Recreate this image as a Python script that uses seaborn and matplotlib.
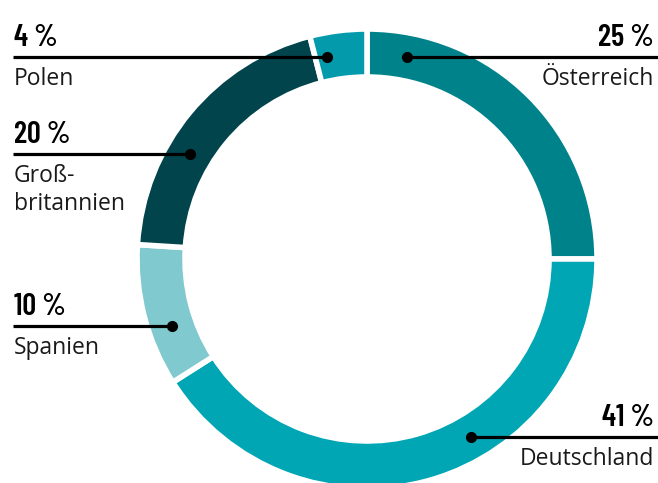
import numpy as np
import matplotlib.pyplot as plt
import seaborn as sns

# Daten (im Uhrzeigersinn ab 12 Uhr)
laender = ['Österreich', 'Deutschland', 'Spanien', 'Groß-\nbritannien', 'Polen']
anteile = [25, 41, 10, 20, 4]
farben = ['#00828b', '#00a6b4', '#80c9ce', '#02444c', '#039aab']
prozent_labels = ['25 %', '41 %', '10 %', '20 %', '4 %']

# Layout der Beschriftungen: Seite und Höhe der Linie (Pixel von oben)
seiten = ['right', 'right', 'left', 'left', 'left']
linien_y = [57, 437, 326, 154, 57]

W, H = 658, 483
cx, cy, r_aussen, ring = 367, 259, 230, 48

sns.set_style('white')

fig = plt.figure(figsize=(W / 100, H / 100), dpi=100)
ax = fig.add_axes([0, 0, 1, 1])

wedges, _ = ax.pie(anteile, colors=farben, startangle=90, counterclock=False,
                   radius=r_aussen, center=(cx, H - cy),
                   wedgeprops=dict(width=ring, edgecolor='white', linewidth=4))
ax.set_xlim(0, W)
ax.set_ylim(0, H)
ax.set_aspect('equal')
ax.axis('off')

r_mitte = r_aussen - ring / 2
pct_font = dict(family=['Barlow Condensed', 'DejaVu Sans'], weight=600, size=22, color='black')
name_font = dict(family=['Open Sans', 'DejaVu Sans'], size=16.5, color='#1a1a1a')

for w, seite, ly, pct, name in zip(wedges, seiten, linien_y, prozent_labels, laender):
    # Punkt auf dem Ring in Höhe der Linie, innerhalb des Segments
    dy = cy - ly
    dx = np.sqrt(max(r_mitte ** 2 - dy ** 2, 0))
    px = None
    for x in (cx + dx, cx - dx):
        ang = np.degrees(np.arctan2(dy, x - cx)) % 360
        t1, t2 = w.theta1 % 360, w.theta2 % 360
        inside = (t1 <= ang <= t2) if t1 <= t2 else (ang >= t1 or ang <= t2)
        if inside:
            px = x
            break
    if px is None:
        px = cx + dx if seite == 'right' else cx - dx

    if seite == 'left':
        ax.plot([13, px], [H - ly, H - ly], color='black', lw=2.3, solid_capstyle='butt')
        tx, ha = 14, 'left'
    else:
        ax.plot([px, W], [H - ly, H - ly], color='black', lw=2.3, solid_capstyle='butt')
        tx, ha = 654, 'right'
    ax.plot(px, H - ly, 'o', color='black', markersize=7)

    ax.text(tx, H - (ly - 11), pct, ha=ha, va='baseline', **pct_font)
    for k, zeile in enumerate(name.split('\n')):
        ax.text(tx, H - (ly + 28 + 28 * k), zeile, ha=ha, va='baseline', **name_font)

fig.savefig('out.png', dpi=100)
